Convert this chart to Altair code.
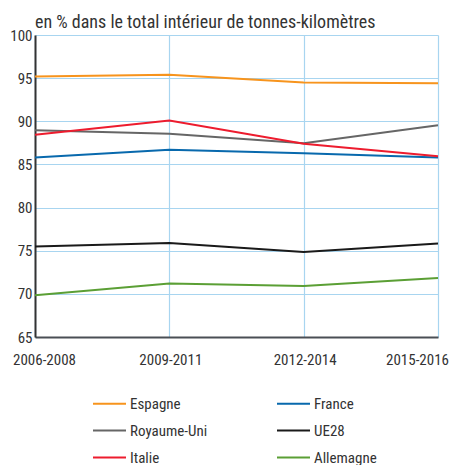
import altair as alt
import pandas as pd

periods = ["2006-2008", "2009-2011", "2012-2014", "2015-2016"]
countries = ["Espagne", "France", "Royaume-Uni", "UE28", "Italie", "Allemagne"]
colors = ["#f7941d", "#0869ad", "#666666", "#1a1a1a", "#ed1c2e", "#5b9f35"]

espagne = [95.2, 95.4, 94.5, 94.4]
france = [85.8, 86.7, 86.3, 85.8]
royaume_uni = [88.95, 88.55, 87.45, 89.55]
ue28 = [75.5, 75.9, 74.85, 75.85]
italie = [88.45, 90.1, 87.4, 85.95]
allemagne = [69.85, 71.2, 70.9, 71.85]

series = {
    "Espagne": espagne,
    "France": france,
    "Royaume-Uni": royaume_uni,
    "UE28": ue28,
    "Italie": italie,
    "Allemagne": allemagne,
}

rows = []
for c, vals in series.items():
    for p, v in zip(periods, vals):
        rows.append({"period": p, "country": c, "value": v})
df = pd.DataFrame(rows)

FONT = "Liberation Sans Narrow, Roboto Condensed, Noto Sans Condensed, DejaVu Sans Condensed, sans-serif"
TXT = "#333333"

chart = (
    alt.Chart(df)
    .mark_line(strokeWidth=2)
    .encode(
        x=alt.X(
            "period:N",
            sort=periods,
            scale=alt.Scale(type="point", padding=0),
            axis=alt.Axis(
                title=None,
                labelAngle=0,
                labelOffset={"expr": "datum.value == '2006-2008' ? 9 : datum.value == '2015-2016' ? -21 : 1"},
                labelPadding=15,
                ticks=False,
                grid=True,
                gridColor="#a8d5f0",
                gridWidth=1.2,
                domainColor="#4a4f55",
                domainWidth=2,
                labelFontSize=15,
                labelColor=TXT,
                labelFont=FONT,
            ),
        ),
        y=alt.Y(
            "value:Q",
            scale=alt.Scale(domain=[65, 100], nice=False, zero=False),
            axis=alt.Axis(
                title=None,
                values=[65, 70, 75, 80, 85, 90, 95, 100],
                ticks=False,
                labelPadding=3,
                grid=True,
                gridColor="#a8d5f0",
                gridWidth=1.2,
                domainColor="#333333",
                domainWidth=2,
                labelFontSize=15,
                labelColor=TXT,
                labelFont=FONT,
            ),
        ),
        color=alt.Color(
            "country:N",
            sort=countries,
            scale=alt.Scale(domain=countries, range=colors),
            legend=alt.Legend(
                title=None,
                orient="none",
                direction="horizontal",
                legendX=57,
                legendY=351,
                columns=2,
                columnPadding=65,
                rowPadding=1,
                symbolType="stroke",
                symbolSize=1089,
                symbolStrokeWidth=1.8,
                labelOffset=3,
                labelFontSize=15,
                labelFont=FONT,
                labelColor=TXT,
            ),
        ),
    )
    .properties(
        width=403,
        height=302,
        padding={"left": 27, "top": 27, "right": 11, "bottom": 128},
        autosize=alt.AutoSizeParams(type="none"),
        title=alt.TitleParams(
            "en % dans le total intérieur de tonnes-kilomètres",
            anchor="start",
            frame="group",
            fontSize=18,
            fontWeight="normal",
            font=FONT,
            color=TXT,
            offset=-4,
        ),
    )
    .configure_view(stroke=None)
)

chart.save("out.html", embed_options={"renderer": "svg", "actions": False})
